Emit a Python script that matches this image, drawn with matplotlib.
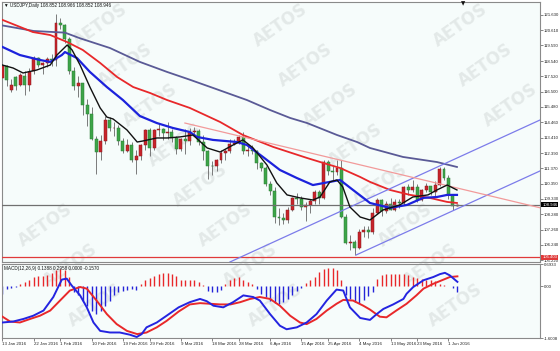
import matplotlib
matplotlib.use('Agg')
import matplotlib.pyplot as plt
from matplotlib.patches import Rectangle
from matplotlib.transforms import blended_transform_factory
import numpy as np
import pandas as pd

# ---------------- data ----------------
dates = pd.bdate_range('2016-01-13', '2016-06-03')   # one bar per trading day

opens = [117.40, 118.20, 116.60, 117.45, 116.95, 117.55, 116.95, 117.85, 118.75, 118.30, 118.40, 118.70, 118.65,
         121.10, 120.95, 120.00, 117.90, 116.90, 117.05, 115.60, 115.00, 113.30, 112.45,
         113.20, 114.60, 114.05, 114.10, 113.20, 112.55, 112.90, 111.90, 112.20, 112.90,
         113.95, 112.70, 113.95, 114.00, 113.70, 113.80, 113.40, 112.65, 113.30, 113.20,
         113.80, 113.85, 113.15, 112.55, 111.55, 111.50, 111.90, 112.40, 112.50, 113.00,
         113.05, 113.45, 112.50, 112.60, 112.55, 111.70, 111.40, 110.30, 109.85, 108.10,
         108.05, 107.90, 108.60, 109.35, 109.30, 108.75, 108.90, 109.20, 109.80, 109.40,
         111.80, 111.20, 111.10, 111.40, 108.10, 106.35, 106.45, 106.05, 107.10, 107.25,
         107.10, 108.40, 109.25, 108.50, 109.00, 108.60, 109.10, 109.05, 110.15, 109.90,
         110.15, 109.25, 109.90, 110.20, 109.80, 110.25, 111.30, 110.70, 109.60, 108.852]
highs = [118.40, 118.30, 117.35, 117.55, 117.75, 117.85, 118.05, 118.90, 118.85, 118.50, 118.85, 119.00, 121.68,
         121.45, 121.05, 120.15, 118.15, 117.55, 117.10, 116.00, 115.50, 113.55, 113.60,
         114.85, 114.80, 114.45, 114.30, 113.40, 113.30, 113.10, 112.60, 113.00, 114.00,
         114.05, 114.00, 114.40, 114.10, 114.45, 114.00, 113.50, 113.40, 114.00, 114.10,
         114.15, 114.00, 113.60, 112.60, 111.85, 112.00, 112.60, 112.65, 113.30, 113.30,
         113.60, 113.80, 112.85, 112.90, 112.60, 111.80, 111.50, 110.50, 110.10, 108.70,
         108.40, 108.75, 109.45, 109.75, 109.50, 109.10, 109.30, 109.90, 109.95, 111.90,
         111.90, 111.50, 111.90, 111.90, 108.30, 106.90, 106.60, 107.30, 107.50, 107.50,
         108.70, 109.40, 109.30, 109.20, 109.40, 109.30, 109.30, 110.20, 110.30, 110.60,
         110.30, 110.00, 110.40, 110.20, 110.50, 111.45, 111.45, 110.90, 109.65, 108.966]
lows = [117.25, 116.90, 116.45, 116.60, 116.85, 116.30, 116.55, 117.70, 118.15, 117.70, 118.15, 118.20, 118.25,
        120.70, 119.75, 117.65, 116.60, 116.15, 114.95, 114.20, 113.25, 110.98, 111.90,
        113.00, 113.85, 113.50, 112.95, 112.40, 112.45, 111.80, 110.99, 111.90, 112.60,
        112.20, 112.60, 113.50, 113.25, 113.30, 113.10, 112.30, 112.50, 112.35, 112.90,
        113.50, 112.90, 111.90, 110.67, 110.90, 111.20, 111.70, 111.90, 112.40, 112.90,
        113.00, 112.30, 112.20, 112.30, 111.30, 111.20, 110.20, 109.60, 107.70, 107.60,
        107.65, 107.70, 108.50, 109.00, 108.60, 107.85, 108.40, 109.00, 109.00, 109.30,
        110.90, 110.50, 110.90, 108.05, 106.30, 105.90, 105.55, 106.00, 106.80, 106.70,
        107.00, 108.30, 108.20, 108.40, 108.60, 108.50, 108.70, 108.90, 109.60, 109.80,
        109.10, 109.20, 109.80, 109.60, 109.50, 110.20, 110.60, 109.30, 108.55, 108.852]
closes = [118.20, 117.30, 116.95, 116.85, 117.60, 116.95, 117.80, 118.75, 118.30, 118.40, 118.70, 118.65, 121.10,
          120.95, 120.00, 117.90, 116.85, 117.05, 115.60, 115.00, 113.30, 112.45, 113.20,
          114.60, 114.05, 114.10, 113.20, 112.55, 112.90, 111.90, 112.20, 112.90, 113.95,
          112.70, 113.95, 114.00, 113.70, 113.80, 113.40, 112.65, 113.30, 113.20, 113.80,
          113.85, 113.15, 112.55, 111.55, 111.50, 111.90, 112.40, 112.50, 113.00, 113.05,
          113.45, 112.50, 112.60, 112.55, 111.70, 111.40, 110.30, 109.85, 108.10, 108.05,
          107.90, 108.60, 109.35, 109.30, 108.75, 108.90, 109.20, 109.80, 109.40, 111.80,
          111.20, 111.10, 111.40, 108.10, 106.35, 106.45, 106.05, 107.10, 107.25, 107.10,
          108.40, 109.25, 108.50, 109.00, 108.60, 109.10, 109.05, 110.15, 109.90, 110.15,
          109.25, 109.90, 110.20, 109.80, 110.25, 111.30, 110.70, 109.60, 108.85, 108.946]

# moving averages (bar position, price)
fast_x = [0, 2.4, 4.6, 7.7, 10.7, 12.2, 14.5, 15.6, 17.4, 19.6, 21.9, 23.4, 24.8, 27.9, 30.2, 31.5, 34.6, 36.9,
          39.8, 42.7, 45.9, 48.8, 51.7, 53.9, 56.2, 59.3, 61.5, 63.8, 66.7, 69.6, 71.2, 73.4, 75.0, 76.3, 77.9,
          80.2, 82.4, 85.3, 89.1, 92.0, 95.4, 97.4, 99.7, 101.9]
fast_y = [118.28, 118.08, 117.75, 117.95, 118.28, 118.95, 119.62, 119.29, 118.28, 116.81, 115.41, 114.80, 114.67,
          113.94, 113.13, 113.20, 113.40, 113.40, 113.47, 113.60, 112.73, 112.46, 112.93, 113.27, 112.73, 111.59,
          110.39, 109.59, 109.39, 109.25, 109.45, 110.46, 110.59, 110.12, 108.78, 108.11, 107.91, 108.58, 108.92,
          109.45, 109.59, 109.92, 110.25, 109.92]
mid_x = [0, 3.9, 8.4, 10.7, 13.3, 14.0, 16.7, 19.6, 23.4, 27.0, 30.8, 34.6, 38.2, 42.0, 43.6, 47.2, 52.6, 54.8,
         58.4, 62.2, 66.0, 69.6, 73.4, 75.7, 78.6, 82.4, 86.9, 90.7, 94.3, 97.4, 99.7, 101.9]
mid_y = [119.49, 118.95, 118.62, 118.49, 118.95, 119.15, 118.75, 117.82, 116.81, 115.94, 114.87, 114.40, 114.07,
         113.80, 113.47, 113.27, 113.13, 112.93, 112.13, 111.26, 110.72, 110.25, 110.46, 110.59, 109.92, 109.05,
         108.72, 108.92, 109.39, 109.45, 109.59, 109.59]
slow_x = [0, 6.8, 10.7, 14.5, 18.0, 21.9, 25.7, 29.3, 33.1, 36.9, 42.0, 48.8, 53.9, 60.7, 68.3, 71.9, 75.7,
          80.2, 82.4, 86.9, 91.4, 95.8, 99.7, 101.9]
slow_y = [121.30, 120.49, 120.29, 119.82, 119.29, 118.42, 117.48, 116.81, 116.41, 115.94, 115.41, 114.47, 113.60,
          112.80, 112.06, 111.73, 111.39, 110.79, 110.46, 109.92, 109.59, 109.39, 109.12, 109.05]
vslow_x = [0, 7.0, 14.0, 17.4, 24.1, 30.8, 36.9, 42.0, 47.2, 54.8, 60.0, 64.5, 68.3, 75.0, 79.5, 82.4, 89.8,
           97.4, 101.9]
vslow_y = [120.93, 120.56, 120.45, 120.07, 119.42, 118.49, 117.82, 117.30, 116.75, 115.94, 115.27, 114.74,
           114.40, 113.60, 113.13, 112.73, 112.13, 111.79, 111.46]

# drawn objects (bar position, price)
upper_channel_x = [51.0, 120.5]
upper_channel_y = [105.10, 114.60]
lower_channel_x = [79.3, 120.5]
lower_channel_y = [105.57, 111.19]
trend_x = [40.9, 120.5]
trend_y = [114.40, 108.73]
last_price = 108.946
support_level = 105.403

price_ticks = [121.630, 120.610, 119.590, 118.540, 117.520, 116.500, 115.480, 114.460, 113.410,
               112.390, 111.370, 110.350, 109.330, 108.280, 107.260, 106.240, 105.220]

# MACD(12,26,9) histogram per bar and the two lines
hist = [-0.23, -0.07, -0.05, -0.03, 0.08, 0.14, 0.21, 0.29, 0.31, 0.31, 0.34, 0.40, 0.50,
        0.55, 0.52, 0.29, -0.18, -0.28, -0.44, -0.60, -0.75, -0.86, -0.75,
        -0.60, -0.44, -0.28, -0.18, -0.13, -0.10, -0.08, -0.10, 0.08, 0.19,
        0.27, 0.31, 0.37, 0.40, 0.40, 0.37, 0.31, 0.21, 0.19, 0.19,
        0.21, 0.14, 0.03, -0.13, -0.18, -0.16, -0.10, 0.08, 0.19, 0.27,
        0.29, 0.21, 0.14, 0.06, -0.07, -0.23, -0.33, -0.44, -0.52, -0.54,
        -0.49, -0.39, -0.28, -0.13, -0.04, 0.10, 0.19, 0.29, 0.45, 0.55,
        0.57, 0.57, 0.50, 0.19, -0.28, -0.39, -0.49, -0.52, -0.42, -0.30,
        -0.18, 0.24, 0.34, 0.37, 0.38, 0.38, 0.38, 0.38, 0.34, 0.29,
        0.26, 0.24, 0.21, 0.21, 0.17, 0.08, 0.03, 0.02, -0.04, -0.16]
macd_x = [0, 2.4, 4.7, 6.9, 9.2, 11.4, 13.3, 14.4, 15.5, 17.4, 18.9, 20.4, 21.9, 24.1, 26.3, 28.6, 30.1, 31.2,
          32.3, 34.6, 36.8, 39.5, 42.0, 44.3, 45.8, 47.3, 49.5, 51.7, 54.0, 56.2, 57.7, 60.0, 62.2, 63.7, 66.0,
          68.2, 70.4, 72.7, 74.9, 76.4, 77.9, 80.2, 82.4, 83.9, 85.4, 87.6, 89.9, 90.6, 92.1, 94.4, 96.6, 98.1,
          99.2, 100.3, 102]
macd_y = [-1.12, -1.09, -1.01, -0.91, -0.75, -0.33, 0.21, 0.24, 0.03, -0.28, -0.65, -1.12, -1.38, -1.43, -1.43,
          -1.50, -1.57, -1.48, -1.27, -1.12, -0.91, -0.65, -0.49, -0.39, -0.46, -0.60, -0.65, -0.49, -0.28, -0.33,
          -0.44, -0.86, -1.22, -1.33, -1.27, -1.12, -0.86, -0.44, -0.10, -0.13, -0.65, -0.98, -1.04, -0.86, -0.70,
          -0.56, -0.39, -0.23, -0.02, 0.19, 0.29, 0.38, 0.42, 0.34, 0.14]
signal_x = [0, 1.7, 3.9, 6.2, 8.4, 10.7, 12.9, 15.1, 17.4, 18.9, 21.1, 23.4, 25.6, 27.9, 30.2, 32.3, 34.6, 36.8,
            39.5, 42.0, 44.3, 46.6, 48.8, 51.1, 53.3, 55.5, 57.7, 60.0, 62.2, 64.5, 66.7, 68.2, 70.4, 72.7, 74.9,
            76.4, 78.6, 80.9, 82.4, 84.6, 86.1, 88.3, 90.6, 92.8, 94.4, 96.6, 98.9, 100.3, 102]
signal_y = [-0.94, -1.09, -1.12, -1.01, -0.91, -0.75, -0.44, -0.13, -0.02, -0.07, -0.44, -0.86, -1.17, -1.38,
            -1.48, -1.43, -1.27, -1.07, -0.78, -0.56, -0.52, -0.54, -0.56, -0.56, -0.49, -0.39, -0.33, -0.39,
            -0.60, -0.91, -1.12, -1.17, -1.01, -0.75, -0.54, -0.42, -0.44, -0.60, -0.72, -0.94, -0.96, -0.75,
            -0.54, -0.28, -0.07, 0.08, 0.21, 0.29, 0.31]
macd_ticks = [0.6933, 0.0, -1.6008]
macd_tick_labels = ['0.6933', '0.00', '-1.6008']

date_tick_bars = [0, 7, 13, 20, 27, 33, 40, 47, 53, 60, 67, 73, 80, 87, 93, 100]
date_tick_labels = ['13 Jan 2016', '22 Jan 2016', '1 Feb 2016', '10 Feb 2016', '19 Feb 2016', '29 Feb 2016',
                    '9 Mar 2016', '18 Mar 2016', '28 Mar 2016', '6 Apr 2016', '15 Apr 2016', '25 Apr 2016',
                    '4 May 2016', '13 May 2016', '23 May 2016', '1 Jun 2016']

title_text = '\u25BC USDJPY,Daily 108.852 108.966 108.852 108.946'
macd_text = 'MACD(12,26,9) 0.1388 0.2958 0.0000 -0.1570'
watermark = 'AETOS'

# ---------------- figure ----------------
SMALL = ['Liberation Sans', 'DejaVu Sans']
plt.rcParams['font.family'] = SMALL

W, H = 560, 351
fig = plt.figure(figsize=(W / 100, H / 100), dpi=100)
fig.patch.set_facecolor('#ffffff')

def box(l, t, r, b):
    return [l / W, 1 - b / H, (r - l) / W, (b - t) / H]

BG = '#f6fcfb'
for (l, t, r, b) in [(2, 2, 540, 262), (2, 264, 540, 338)]:
    fig.add_artist(Rectangle((l / W, 1 - b / H), (r - l) / W, (b - t) / H, transform=fig.transFigure,
                             facecolor=BG, edgecolor='none', zorder=-3))

# watermark lattice (only copies that fit entirely inside the picture)
for i in range(-1, 4):
    for k in range(0, 9):
        cx = 100 + 180 * i + 25 * k
        cy = 25 + 40 * k
        if 32 <= cx <= 528 and cy <= 326:
            fig.text(cx / W, 1 - cy / H, watermark, rotation=35, ha='center', va='center',
                     fontsize=12, fontweight='bold', color='#e3e9e8', zorder=-2,
                     family=['DejaVu Sans'])

ax = fig.add_axes(box(2, 2, 540, 262))
ax2 = fig.add_axes(box(2, 264, 540, 338), sharex=ax)
for a in (ax, ax2):
    a.set_facecolor('none')
    for s in a.spines.values():
        s.set_color('#8a8a8a')
        s.set_linewidth(0.8)

n = len(dates)
xs = np.arange(n)
o = np.array(opens); h = np.array(highs); l = np.array(lows); c = np.array(closes)
up = c >= o
ax.vlines(xs, l, h, color='#666666', lw=0.6, zorder=2)
body_bottom = np.minimum(o, c)
body_h = np.maximum(np.abs(c - o), 0.03)
ax.bar(xs, body_h, bottom=body_bottom, width=0.66,
       color=np.where(up, '#c8242b', '#3da548'),
       edgecolor=np.where(up, '#8a1a1e', '#2a7a34'), linewidth=0.35, zorder=3)

ax.plot(vslow_x, vslow_y, color='#5a5a96', lw=1.3, zorder=4)
ax.plot(slow_x, slow_y, color='#e8282a', lw=1.3, zorder=4)
ax.plot(mid_x, mid_y, color='#1c22dc', lw=1.6, zorder=5)
ax.plot(fast_x, fast_y, color='#111111', lw=1.0, zorder=6)

ax.plot(upper_channel_x, upper_channel_y, color='#7c7cea', lw=0.9, zorder=4)
ax.plot(lower_channel_x, lower_channel_y, color='#7c7cea', lw=0.9, zorder=4)
ax.plot(trend_x, trend_y, color='#f29a9a', lw=0.9, zorder=4)
ax.axhline(last_price, color='#707070', lw=0.9, zorder=3.5)
ax.axhline(support_level, color='#e03a3a', lw=0.9, zorder=3.5)

ax.set_xlim(-0.11, 120.52)
ax.set_ylim(105.10, 122.50)
ax.yaxis.tick_right()
ax.set_yticks(price_ticks)
ax.set_yticklabels(['%.3f' % v for v in price_ticks])
ax.tick_params(axis='y', labelsize=3.1, length=2, width=0.5, color='#555555', pad=0.8, labelcolor='#222222')
ax.tick_params(axis='x', bottom=False, labelbottom=False)

tr = blended_transform_factory(ax.transAxes, ax.transData)
ax.text(1.004, last_price, '%.3f' % last_price, transform=tr, ha='left', va='center', fontsize=3.1,
        color='white', bbox=dict(facecolor='#000000', edgecolor='none', pad=0.6), zorder=10, clip_on=False)
ax.text(1.004, support_level, '%.3f' % support_level, transform=tr, ha='left', va='center', fontsize=3.1,
        color='white', bbox=dict(facecolor='#e03a3a', edgecolor='none', pad=0.6), zorder=10, clip_on=False)

# MACD panel
ax2.vlines(xs, 0, hist, colors=np.where(np.array(hist) >= 0, '#e8282a', '#2424d8'), lw=1.0, zorder=2)
ax2.plot(signal_x, signal_y, color='#e8282a', lw=1.4, zorder=3)
ax2.plot(macd_x, macd_y, color='#2424e0', lw=1.4, zorder=4)
ax2.set_ylim(-1.6008, 0.6933)
ax2.yaxis.tick_right()
ax2.set_yticks(macd_ticks)
ax2.set_yticklabels(macd_tick_labels)
ax2.tick_params(axis='y', labelsize=3.1, length=2, width=0.5, color='#555555', pad=0.8, labelcolor='#222222')
ax2.set_xticks(date_tick_bars)
ax2.set_xticklabels(date_tick_labels, ha='left')
ax2.tick_params(axis='x', labelsize=3.2, length=2, width=0.5, color='#555555', pad=1, labelcolor='#222222')

fig.text(4 / W, 1 - 5.5 / H, title_text, fontsize=3.3, va='center', ha='left', color='#111111')
fig.text(4 / W, 1 - 268.5 / H, macd_text, fontsize=3.3, va='center', ha='left', color='#111111')
fig.text(463 / W, 1 - 3.5 / H, '\u25BC', fontsize=4, ha='center', va='center', color='#111111',
         family=['DejaVu Sans'])

fig.savefig('out.png', dpi=100, facecolor=fig.get_facecolor())
